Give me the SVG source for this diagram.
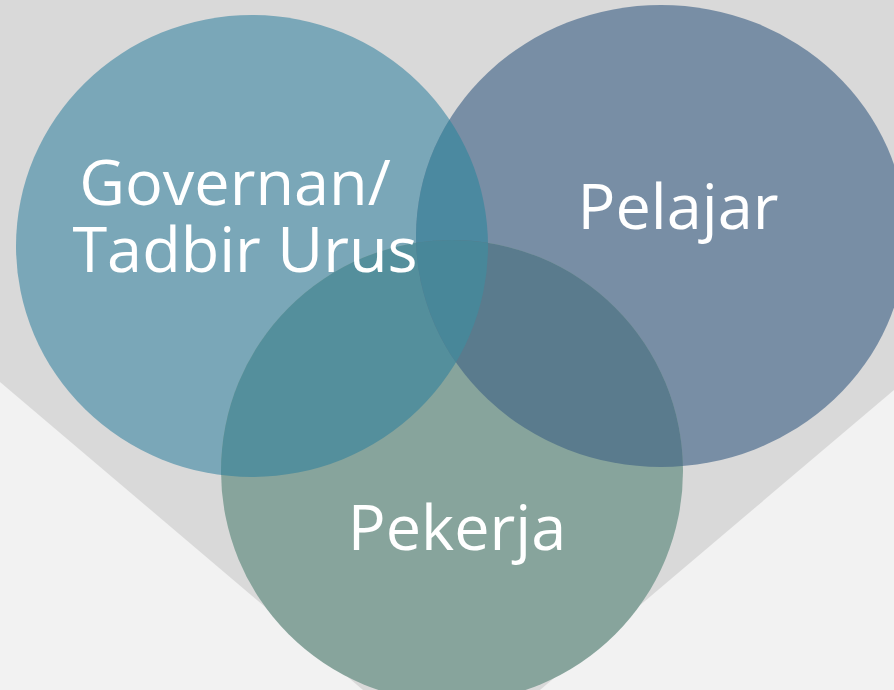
<svg xmlns="http://www.w3.org/2000/svg" width="894" height="690" viewBox="0 0 894 690">
<style>
.lbl{font-family:"Open Sans","Noto Sans","DejaVu Sans",sans-serif;font-size:63px;fill:#ffffff;text-anchor:middle}
</style>
<defs>
<clipPath id="cL"><ellipse cx="252" cy="246" rx="236" ry="231"/></clipPath>
<clipPath id="cR"><ellipse cx="661" cy="236" rx="245" ry="231"/></clipPath>
<clipPath id="cB"><ellipse cx="452" cy="471" rx="231" ry="231"/></clipPath>
</defs>
<rect x="0" y="0" width="894" height="690" fill="#d9d9d9"/>
<polygon points="0,382 363,690 0,690" fill="#f2f2f2"/>
<polygon points="894,390 540,690 894,690" fill="#f2f2f2"/>
<g id="node-governan">
<ellipse cx="252" cy="246" rx="236" ry="231" fill="#7aa7b8"/>
</g>
<g id="node-pelajar">
<ellipse cx="661" cy="236" rx="245" ry="231" fill="#788ea5"/>
</g>
<g id="node-pekerja">
<ellipse cx="452" cy="471" rx="231" ry="231" fill="#87a49c"/>
</g>
<g id="overlaps">
<g clip-path="url(#cL)"><ellipse cx="661" cy="236" rx="245" ry="231" fill="#4b89a0"/></g>
<g clip-path="url(#cL)"><ellipse cx="452" cy="471" rx="231" ry="231" fill="#548f9c"/></g>
<g clip-path="url(#cR)"><ellipse cx="452" cy="471" rx="231" ry="231" fill="#5a7b8d"/></g>
<g clip-path="url(#cL)"><g clip-path="url(#cR)"><ellipse cx="452" cy="471" rx="231" ry="231" fill="#488799"/></g></g>
</g>
<g id="labels">
<text class="lbl"><tspan x="235" y="205">Governan/</tspan><tspan x="245" y="272">Tadbir Urus</tspan></text>
<text class="lbl" x="678" y="229">Pelajar</text>
<text class="lbl" x="457" y="550">Pekerja</text>
</g>
</svg>
